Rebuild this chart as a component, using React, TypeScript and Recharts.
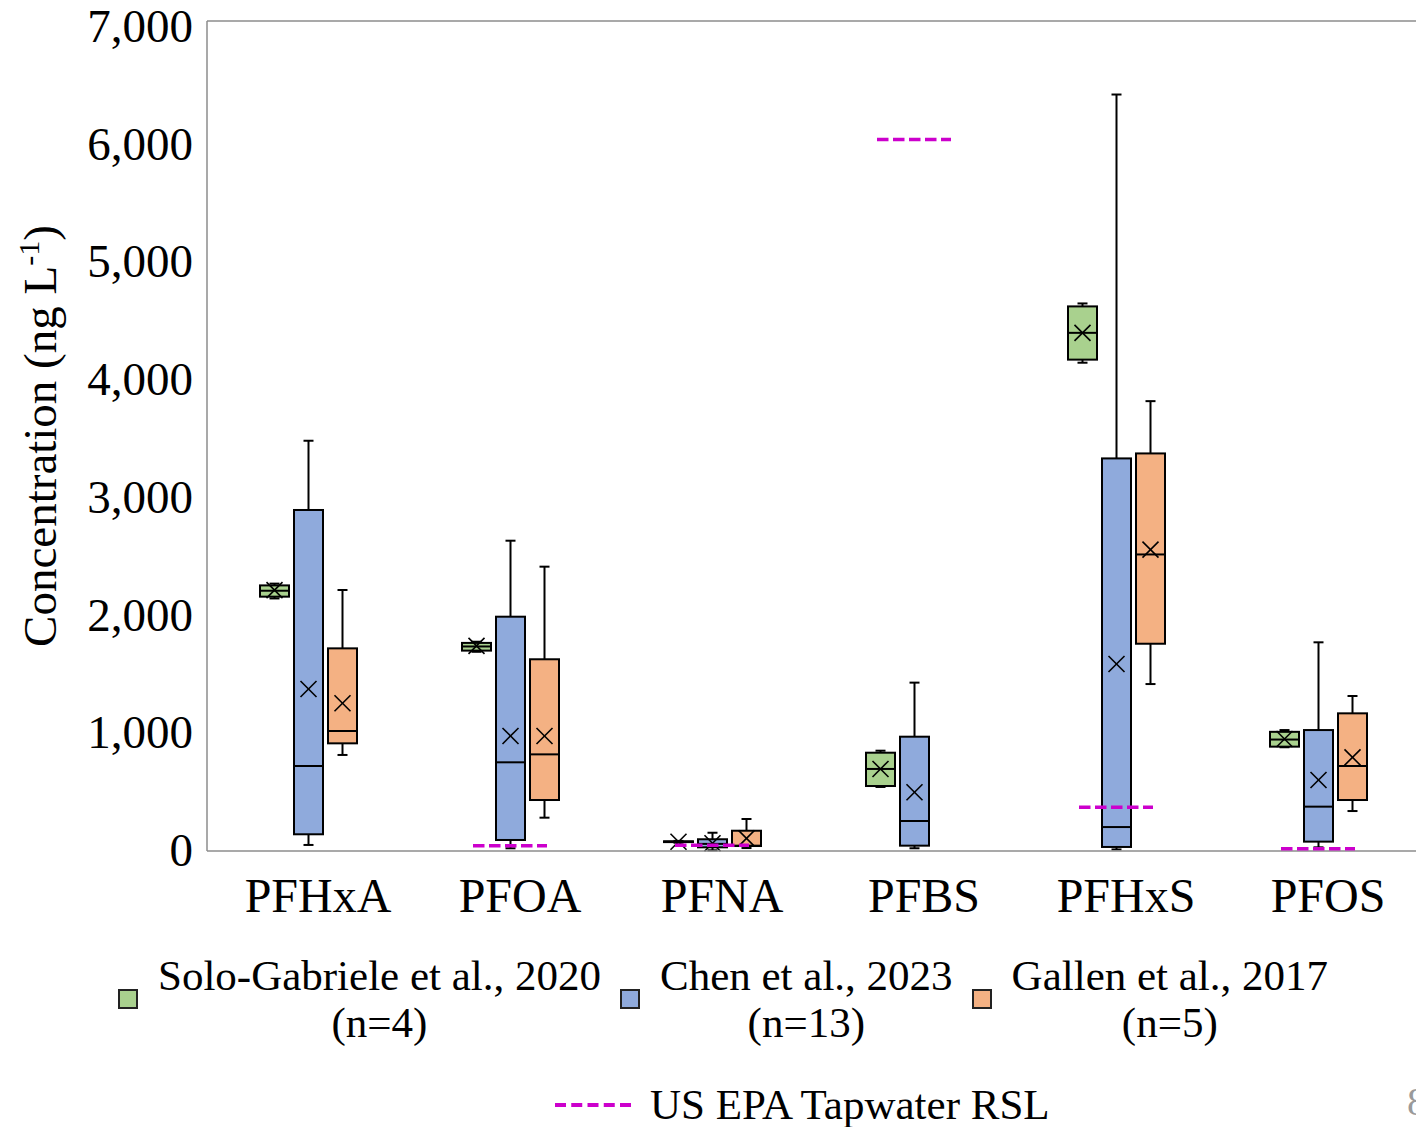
import {ComposedChart, Bar, Scatter, XAxis, YAxis, ReferenceLine} from 'recharts';

const categories = ['PFHxA', 'PFOA', 'PFNA', 'PFBS', 'PFHxS', 'PFOS'];

// each entry: [min, q1, median, q3, max, mean]
const soloGabriele2020 = [
  [2130, 2145, 2195, 2240, 2255, 2200],
  [1680, 1690, 1725, 1755, 1765, 1730],
  [70, 75, 78, 82, 85, 78],
  [540, 548, 692, 829, 846, 692],
  [4118, 4144, 4370, 4593, 4618, 4370],
  [875, 880, 940, 1005, 1020, 945],
];
const chen2023 = [
  [51, 141, 717, 2876, 3460, 1366],
  [23, 93, 748, 1976, 2617, 970],
  [6, 31, 60, 99, 154, 65],
  [23, 45, 253, 964, 1420, 495],
  [13, 34, 202, 3311, 6380, 1577],
  [31, 79, 374, 1020, 1760, 599],
];
const gallen2017 = [
  [810, 908, 1012, 1709, 2201, 1246],
  [281, 430, 815, 1617, 2398, 970],
  [25, 42, 45, 171, 270, 107],
  null,
  [1408, 1748, 2501, 3353, 3794, 2542],
  [337, 430, 717, 1161, 1307, 790],
];
const epaRsl = [null, 45, 48, 6000, 370, 20];
const yTicks = [0, 1000, 2000, 3000, 4000, 5000, 6000, 7000];

const series = [
  {key: 'solo', name: 'Solo-Gabriele et al., 2020', n: '(n=4)', color: '#A9D18E', stats: soloGabriele2020},
  {key: 'chen', name: 'Chen et al., 2023', n: '(n=13)', color: '#8FAADC', stats: chen2023},
  {key: 'gallen', name: 'Gallen et al., 2017', n: '(n=5)', color: '#F4B183', stats: gallen2017},
];
const rslName = 'US EPA Tapwater RSL';
const rslColor = '#CC00CC';

const chartData = categories.map((name, i) => {
  const row: any = {name, rsl: epaRsl[i]};
  series.forEach((s) => {
    row[s.key] = s.stats[i];
  });
  return row;
});

const FONT = '"Liberation Serif", "Times New Roman", serif';
const AXIS = '#8c8c8c';

const BoxShape = (props: any) => {
  const {x, y, width, height, payload, statsKey, color} = props;
  const st = payload ? payload[statsKey] : null;
  if (!st || !Number.isFinite(y) || !height) return <g />;
  const [min, q1, med, q3, max, mean] = st;
  const top = Math.min(y, y + height);
  const h = Math.abs(height);
  const k = h / (max - min);
  const py = (v: number) => top + (max - v) * k;
  const cx = x + width / 2;
  const m = py(mean);
  return (
    <g>
      <line x1={cx} x2={cx} y1={py(max)} y2={py(q3)} stroke="#000" strokeWidth={2} />
      <line x1={cx - 5} x2={cx + 5} y1={py(max)} y2={py(max)} stroke="#000" strokeWidth={2} />
      <line x1={cx} x2={cx} y1={py(q1)} y2={py(min)} stroke="#000" strokeWidth={2} />
      <line x1={cx - 5} x2={cx + 5} y1={py(min)} y2={py(min)} stroke="#000" strokeWidth={2} />
      <rect
        x={x + 1}
        y={py(q3)}
        width={width - 2}
        height={Math.max(py(q1) - py(q3), 0.5)}
        fill={color}
        stroke="#000"
        strokeWidth={2}
      />
      <line x1={x + 1} x2={x + width - 1} y1={py(med)} y2={py(med)} stroke="#000" strokeWidth={2} />
      <line x1={cx - 8} x2={cx + 8} y1={m - 8} y2={m + 8} stroke="#000" strokeWidth={1.6} />
      <line x1={cx - 8} x2={cx + 8} y1={m + 8} y2={m - 8} stroke="#000" strokeWidth={1.6} />
    </g>
  );
};

const RslShape = (props: any) => {
  const {cx, cy, payload} = props;
  if (!payload || payload.rsl == null || !Number.isFinite(cy)) return <g />;
  return (
    <line
      x1={cx - 37}
      x2={cx + 37}
      y1={cy}
      y2={cy}
      stroke={rslColor}
      strokeWidth={3.5}
      strokeDasharray="11.5 4.5"
    />
  );
};

const XTick = (props: any) => {
  const {x, y, payload} = props;
  return (
    <text x={x + 10} y={y} dy={61} textAnchor="middle" fontSize={48} fontFamily={FONT} fill="#000">
      {payload.value}
    </text>
  );
};

const YTick = (props: any) => {
  const {x, y, payload} = props;
  const v = Number(payload.value);
  return (
    <text x={x + 1} y={y} dy={15 + (v / 7000) * 6} textAnchor="end" fontSize={47} fontFamily={FONT} fill="#000">
      {v.toLocaleString('en-US')}
    </text>
  );
};

const YLabel = (props: any) => {
  const {viewBox} = props;
  const cy = viewBox.y + viewBox.height / 2;
  return (
    <text
      transform="rotate(-90)"
      x={-cy}
      y={56}
      textAnchor="middle"
      fontSize={47}
      fontFamily={FONT}
      fill="#000">
      Concentration (ng L
      <tspan dy={-17} fontSize={30}>-1</tspan>
      <tspan dy={17} fontSize={47}>)</tspan>
    </text>
  );
};

const App = () => {
  return (
    <div
      style={{
        position: 'absolute',
        left: 0,
        top: 0,
        width: 1416,
        height: 1127,
        overflow: 'hidden',
        background: '#fff',
        fontFamily: FONT,
      }}>
      <ComposedChart
        width={1430}
        height={1127}
        data={chartData}
        margin={{top: 21, right: 11, left: 0, bottom: 0}}
        barGap={3}>
        <XAxis
          dataKey="name"
          height={276}
          tickLine={false}
          tickSize={0}
          tickMargin={0}
          axisLine={{stroke: AXIS, strokeWidth: 1.5}}
          tick={<XTick />}
          interval={0}
        />
        <YAxis
          width={207}
          domain={[0, 7000]}
          ticks={yTicks}
          tickLine={false}
          tickSize={0}
          tickMargin={15}
          axisLine={{stroke: AXIS, strokeWidth: 1.5}}
          tick={<YTick />}
          interval={0}
          label={<YLabel />}
        />
        <ReferenceLine y={7000} stroke={AXIS} strokeWidth={1.5} />
        {series.map((s) => (
          <Bar
            key={s.key}
            dataKey={(d: any) => (d[s.key] ? [d[s.key][0], d[s.key][4]] : null)}
            barSize={31}
            isAnimationActive={false}
            shape={(p: any) => <BoxShape {...p} statsKey={s.key} color={s.color} />}
          />
        ))}
        <Scatter dataKey="rsl" shape={<RslShape />} isAnimationActive={false} />
      </ComposedChart>

      <div
        style={{
          position: 'absolute',
          left: 0,
          top: 952,
          width: 1416,
          paddingLeft: 30,
          boxSizing: 'border-box',
          display: 'flex',
          justifyContent: 'center',
          alignItems: 'center',
          gap: 19,
          fontSize: 43,
          lineHeight: '47px',
          color: '#000',
        }}>
        {series.map((s) => (
          <div key={s.key} style={{display: 'flex', alignItems: 'center'}}>
            <div
              style={{
                width: 16,
                height: 16,
                background: s.color,
                border: '2px solid #222',
                marginRight: 20,
              }}
            />
            <div style={{textAlign: 'center', whiteSpace: 'nowrap'}}>
              <div>{s.name}</div>
              <div>{s.n}</div>
            </div>
          </div>
        ))}
      </div>

      <div
        style={{
          position: 'absolute',
          left: 555,
          top: 1085,
          display: 'flex',
          alignItems: 'center',
          fontSize: 43,
          lineHeight: '40px',
          color: '#000',
          whiteSpace: 'nowrap',
        }}>
        <svg width={76} height={10} style={{marginRight: 19}}>
          <line x1={0} x2={76} y1={5} y2={5} stroke={rslColor} strokeWidth={4} strokeDasharray="11 5.25" />
        </svg>
        <span>{rslName}</span>
      </div>

      <div style={{position: 'absolute', left: 1407, top: 1082, fontSize: 40, lineHeight: '40px', color: '#9a9a9a'}}>8</div>
    </div>
  );
};

export default App;
